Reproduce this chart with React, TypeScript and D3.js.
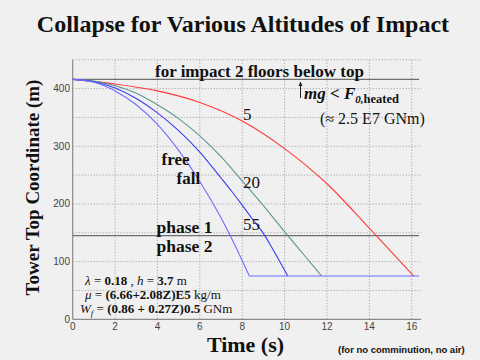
import React from "react";
import * as d3 from "d3";

// values: [time s, tower top m]
const curve5 = [[0, 416], [2, 408], [4, 396], [6, 376], [8, 344], [10, 296], [12, 235], [14, 158], [16.1, 75]];
const curve20 = [[0, 416], [1, 413], [2, 405], [3, 392], [4, 372], [5, 348], [6, 318], [7, 282], [8, 240], [9, 197], [10, 152], [11, 108], [11.75, 75]];
const curve55 = [[0, 416], [1, 412], [2, 401], [3, 383], [4, 358], [5, 327], [6, 290], [7, 245], [7.5, 222], [8, 198], [8.5, 173], [9, 149], [9.5, 118], [10.15, 75]];
const freeFall = [[0, 416], [1, 411], [2, 396], [3, 372], [4, 338], [5, 293], [6, 239], [7, 176], [8, 102], [8.34, 75]];
const floorLine = [[8.34, 75], [16.35, 75]];

const topLevel = 416;
const phaseLevel = 145;
const xTicks = [0, 2, 4, 6, 8, 10, 12, 14, 16];
const yTicks = [0, 100, 200, 300, 400];
const yGrid = [50, 100, 150, 200, 250, 300, 350, 400, 450];

const serif = "'Liberation Serif', 'Times New Roman', serif";
const sans = "'Liberation Sans', Arial, sans-serif";

const App = () => {
  const width = 480;
  const height = 360;

  const x = d3.scaleLinear().domain([0, 16]).range([72.7, 411.7]);
  const y = d3.scaleLinear().domain([0, 400]).range([319.3, 88.6]);

  const curve = d3
    .line<number[]>()
    .x((d) => x(d[0]))
    .y((d) => y(d[1]))
    .curve(d3.curveMonotoneX);
  const straight = d3
    .line<number[]>()
    .x((d) => x(d[0]))
    .y((d) => y(d[1]));

  const xEnd = 16.35;
  const gridRight = x(16.45);
  const gridTop = y(450);

  return (
    <svg
      width={width}
      height={height}
      style={{ position: "absolute", left: 0, top: 0, display: "block" }}
    >
      <rect width={width} height={height} fill="#f0f0f0" />

      <text x={243} y={32} textAnchor="middle" fontFamily={serif} fontWeight="bold" fontSize={24} fill="#111">
        Collapse for Various Altitudes of Impact
      </text>

      {/* grid */}
      <g stroke="#9a9a9a" strokeWidth={1} strokeDasharray="1 2">
        {xTicks.slice(1).map((t) => (
          <line key={"gx" + t} x1={x(t)} x2={x(t)} y1={gridTop} y2={y(0)} />
        ))}
        {yGrid.map((v) => (
          <line key={"gy" + v} x1={x(0)} x2={gridRight} y1={y(v)} y2={y(v)} />
        ))}
      </g>

      {/* axes */}
      <g stroke="#8a8a8a" strokeWidth={1.2}>
        <line x1={x(0)} x2={x(0)} y1={gridTop} y2={y(0)} />
        <line x1={x(0)} x2={gridRight} y1={y(0)} y2={y(0)} />
      </g>

      <g fontFamily={sans} fontSize={10} fill="#444">
        {xTicks.map((t) => (
          <text key={"tx" + t} x={x(t)} y={330} textAnchor="middle">
            {t}
          </text>
        ))}
        {yTicks.map((v) => (
          <text key={"ty" + v} x={70} y={y(v) + 3.5} textAnchor="end">
            {v}
          </text>
        ))}
      </g>

      {/* reference levels */}
      <g stroke="#6e6e6e" strokeWidth={1.3}>
        <line x1={x(0)} x2={x(xEnd)} y1={y(topLevel)} y2={y(topLevel)} />
        <line x1={x(0)} x2={x(xEnd)} y1={y(phaseLevel)} y2={y(phaseLevel)} />
      </g>

      {/* curves */}
      <g fill="none" strokeWidth={1.1}>
        <path d={curve(curve5) ?? ""} stroke="#ff3b3b" />
        <path d={curve(curve20) ?? ""} stroke="#5b9793" />
        <path d={curve(curve55) ?? ""} stroke="#3c3cf5" />
        <path d={curve(freeFall) ?? ""} stroke="#6d6dff" />
        <path d={straight(floorLine) ?? ""} stroke="#6d6dff" />
      </g>

      {/* annotations */}
      <text x={155} y={76.5} fontFamily={serif} fontWeight="bold" fontSize={17} fill="#111">
        for impact 2 floors below top
      </text>
      <g fontFamily={serif} fontSize={17} fill="#111">
        <text x={243} y={120}>5</text>
        <text x={243} y={188}>20</text>
        <text x={243} y={230}>55</text>
      </g>
      <g fontFamily={serif} fontWeight="bold" fontSize={17} fill="#111">
        <text x={161.5} y={165}>free</text>
        <text x={176.5} y={184}>fall</text>
      </g>
      <g fontFamily={serif} fontWeight="bold" fontSize={17.5} fill="#111">
        <text x={156.5} y={233}>phase 1</text>
        <text x={156.5} y={251.5}>phase 2</text>
      </g>

      <line x1={300.5} x2={300.5} y1={84} y2={98} stroke="#222" strokeWidth={1} />
      <path d="M298.5,86 L300.5,81.5 L302.5,86 Z" fill="#222" />
      <text x={304} y={99} fontFamily={serif} fill="#111">
        <tspan fontWeight="bold" fontStyle="italic" fontSize={17}>mg &lt; F</tspan>
        <tspan fontWeight="bold" fontStyle="italic" fontSize={11} dy={4}>0,</tspan>
        <tspan fontWeight="bold" fontSize={12.5}>heated</tspan>
      </text>
      <text x={320} y={124} fontFamily={serif} fontSize={16} fill="#111">
        (≈ 2.5 E7 GNm)
      </text>

      <g fontFamily={serif} fontSize={13} fill="#111">
        <text x={85} y={285}>
          <tspan fontStyle="italic">λ</tspan> = <tspan fontWeight="bold">0.18</tspan> ,{"  "}
          <tspan fontStyle="italic">h</tspan> = <tspan fontWeight="bold">3.7</tspan> m
        </text>
        <text x={85} y={299}>
          <tspan fontStyle="italic">μ</tspan> = <tspan fontWeight="bold">(6.66+2.08Z)E5</tspan> kg/m
        </text>
        <text x={80} y={313}>
          <tspan fontStyle="italic">W</tspan>
          <tspan fontStyle="italic" fontSize={9} dy={3}>f</tspan>
          <tspan dy={-3}> = </tspan>
          <tspan fontWeight="bold">(0.86 + 0.27Z)0.5</tspan> GNm
        </text>
      </g>

      <text x={245.5} y={351.5} textAnchor="middle" fontFamily={serif} fontWeight="bold" fontSize={22} fill="#111">
        Time (s)
      </text>
      <text x={338} y={352.5} fontFamily={sans} fontWeight="bold" fontSize={9.5} fill="#111">
        (for no comminution, no air)
      </text>
      <text
        transform="translate(39,187.5) rotate(-90)"
        textAnchor="middle"
        fontFamily={serif}
        fontWeight="bold"
        fontSize={19}
        fill="#111"
      >
        Tower Top Coordinate (m)
      </text>
    </svg>
  );
};

export default App;
